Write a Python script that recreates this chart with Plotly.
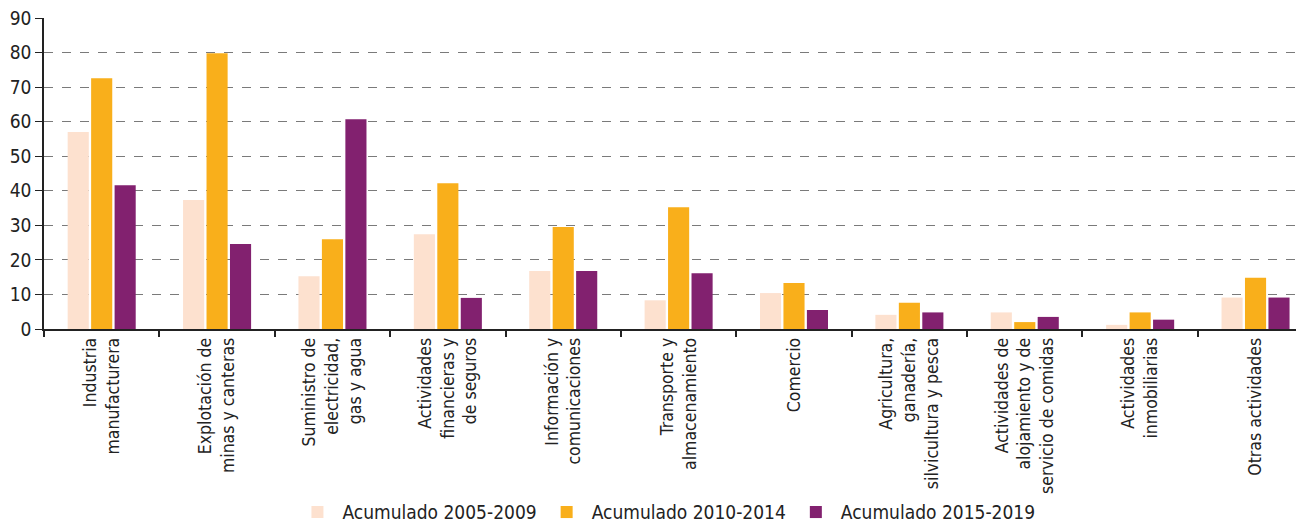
import plotly.graph_objects as go

categories = [
    "Industria<br>manufacturera",
    "Explotación de<br>minas y canteras",
    "Suministro de<br>electricidad,<br>gas y agua",
    "Actividades<br>financieras y<br>de seguros",
    "Información y<br>comunicaciones",
    "Transporte y<br>almacenamiento",
    "Comercio",
    "Agricultura,<br>ganadería,<br>silvicultura y pesca",
    "Actividades de<br>alojamiento y de<br>servicio de comidas",
    "Actividades<br>inmobiliarias",
    "Otras actividades",
]
series_names = ["Acumulado 2005-2009", "Acumulado 2010-2014", "Acumulado 2015-2019"]
v2005 = [57.0, 37.3, 15.3, 27.4, 16.8, 8.3, 10.4, 4.1, 4.8, 1.2, 9.1]
v2010 = [72.6, 79.8, 26.0, 42.2, 29.5, 35.2, 13.3, 7.6, 2.0, 4.8, 14.8]
v2015 = [41.6, 24.6, 60.7, 9.0, 16.8, 16.1, 5.5, 4.8, 3.5, 2.7, 9.1]
y_ticks = [0, 10, 20, 30, 40, 50, 60, 70, 80, 90]

colors = ["#FDE1CF", "#F9AF1B", "#82216F"]
FONT = "Liberation Sans Narrow, DejaVu Sans Condensed, Roboto, sans-serif"

fig = go.Figure()
for name, vals, col in zip(series_names, [v2005, v2010, v2015], colors):
    fig.add_trace(go.Bar(x=categories, y=vals, name=name,
                         marker=dict(color=col, line=dict(width=0))))

# page body has an 8px default margin, so the figure is sized to fit the window
fig.update_layout(
    width=1296, height=515,
    margin=dict(l=36, r=0, t=10, b=194, autoexpand=False),
    plot_bgcolor="white", paper_bgcolor="white",
    barmode="group", bargap=0.39, bargroupgap=0.1,
    font=dict(family=FONT, color="#222", size=17),
    showlegend=True,
    legend=dict(orientation="h", x=0.494, xanchor="center",
                y=-0.528, yanchor="top",
                bgcolor="rgba(0,0,0,0)",
                font=dict(size=19, family=FONT), traceorder="normal",
                itemwidth=40, tracegroupgap=0),
)
fig.update_xaxes(
    type="category", range=[-0.5, 10.42], tickson="boundaries", automargin=False,
    ticks="outside", ticklen=6, tickcolor="#222", tickwidth=1.5,
    showline=True, linecolor="#222", linewidth=1.5, ticklabeloverflow="allow",
    tickangle=-90, tickfont=dict(size=17.5, family=FONT), showgrid=False,
)
fig.update_yaxes(
    range=[0, 90], tickvals=y_ticks, ticks="outside", ticklen=7, tickcolor="#222",
    automargin=False, ticklabeloverflow="allow",
    showline=True, linecolor="#222", linewidth=1.5,
    showgrid=True, gridcolor="#7a7a7a", griddash="dash", gridwidth=1,
    zeroline=False, tickfont=dict(size=19, family=FONT),
)
fig.write_html("out.html")
